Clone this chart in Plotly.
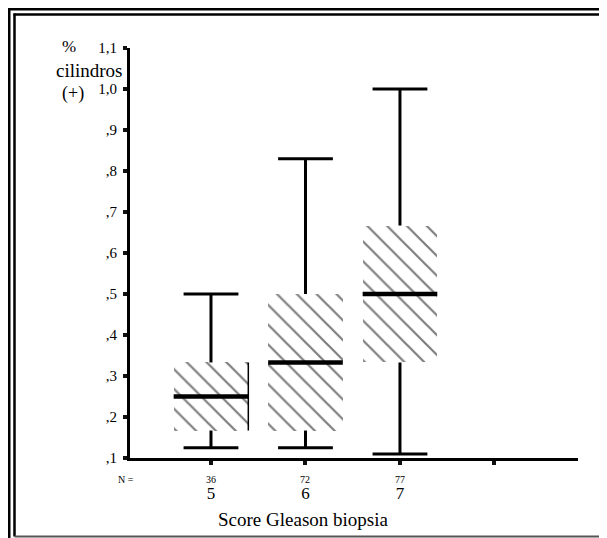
import plotly.graph_objects as go

# ---- data ----
categories = ["5", "6", "7", ""]
n_values = ["36", "72", "77"]
lower_whisker = [0.125, 0.125, 0.11]
q1 = [0.167, 0.167, 0.333]
median = [0.25, 0.333, 0.5]
q3 = [0.333, 0.5, 0.667]
upper_whisker = [0.5, 0.83, 1.0]
y_tickvals = [0.1, 0.2, 0.3, 0.4, 0.5, 0.6, 0.7, 0.8, 0.9, 1.0, 1.1]
y_ticktext = [",1", ",2", ",3", ",4", ",5", ",6", ",7", ",8", ",9", "1,0", "1,1"]

OFF = 8  # page body margin
W, H = 607 - OFF, 538 - OFF
L, T = 130 - OFF, 48 - OFF
R = W - (578 - OFF)
B = H - (458 - OFF)
PW, PH = W - L - R, H - T - B
FONT = "Liberation Serif"

def px_x(p):
    return (p - OFF - L) / PW

def px_y(p):
    return (H - B - (p - OFF)) / PH

box_w = 0.79
cap_w = 0.58
xs = list(range(len(q1)))

fig = go.Figure()

# hatched boxes
fig.add_trace(go.Bar(
    x=xs, y=[b - a for a, b in zip(q1, q3)], base=q1, width=box_w,
    marker=dict(color="white", line=dict(width=0),
                pattern=dict(shape="\\", fgcolor="black", bgcolor="white",
                             size=14, solidity=0.16)),
    hoverinfo="skip", showlegend=False))

# whiskers + caps
wx, wy = [], []
for i in xs:
    wx += [i, i, None, i - cap_w / 2, i + cap_w / 2, None,
           i, i, None, i - cap_w / 2, i + cap_w / 2, None]
    wy += [q3[i], upper_whisker[i], None, upper_whisker[i], upper_whisker[i], None,
           q1[i], lower_whisker[i], None, lower_whisker[i], lower_whisker[i], None]
fig.add_trace(go.Scatter(x=wx, y=wy, mode="lines",
                         line=dict(color="black", width=3),
                         hoverinfo="skip", showlegend=False))

# thin right edge on first box
fig.add_trace(go.Scatter(x=[xs[0] + box_w / 2] * 2, y=[q1[0], q3[0]], mode="lines",
                         line=dict(color="black", width=1.5),
                         hoverinfo="skip", showlegend=False))

# medians
mx, my = [], []
for i in xs:
    mx += [i - box_w / 2, i + box_w / 2, None]
    my += [median[i], median[i], None]
fig.add_trace(go.Scatter(x=mx, y=my, mode="lines",
                         line=dict(color="black", width=4.5),
                         hoverinfo="skip", showlegend=False))

fig.update_xaxes(
    range=[-0.857, 3.884], tickvals=list(range(len(categories))), ticktext=categories,
    showline=True, linecolor="black", linewidth=3, showgrid=False, zeroline=False,
    ticks="outside", ticklen=4, tickwidth=4, tickcolor="#111",
    tickfont=dict(family=FONT, size=17, color="black"), ticklabelstandoff=14)
fig.update_yaxes(
    range=[0.1, 1.1], tickvals=y_tickvals, ticktext=y_ticktext,
    showline=True, linecolor="black", linewidth=3, showgrid=False, zeroline=False,
    ticks="outside", ticklen=4, tickwidth=4, tickcolor="#111",
    tickfont=dict(family=FONT, size=15, color="black"), ticklabelstandoff=3)

def txt(x, y, s, size, xref="paper"):
    return dict(x=x, y=y, xref=xref, yref="paper", text=s, showarrow=False,
                xanchor="center", yanchor="middle",
                font=dict(family=FONT, size=size, color="black"))

ann = [txt(px_x(126), px_y(479), "N =", 10)]
for i, n in enumerate(n_values):
    ann.append(txt(i, px_y(479), n, 10, xref="x"))
ann += [
    txt(px_x(69), px_y(46), "%", 17),
    txt(px_x(89), px_y(70), "cilindros", 19),
    txt(px_x(73), px_y(93), "(+)", 18),
    txt(px_x(303), px_y(520), "Score Gleason biopsia", 19),
]

def seg(x0, y0, x1, y1, color, width):
    return dict(type="line", xref="paper", yref="paper",
                x0=px_x(x0), y0=px_y(y0), x1=px_x(x1), y1=px_y(y1),
                line=dict(color=color, width=width))

shapes = [
    seg(7.5, 9, 607, 9, "black", 3),
    seg(9, 7.5, 9, 538, "black", 3),
    seg(13.5, 14.5, 607, 14.5, "black", 2.5),
    seg(14.5, 13.5, 14.5, 536.5, "black", 2.5),
    seg(14.5, 536.5, 607, 536.5, "#555", 2),
]

fig.update_layout(
    width=W, height=H, margin=dict(l=L, r=R, t=T, b=B, pad=0),
    paper_bgcolor="white", plot_bgcolor="white",
    annotations=ann, shapes=shapes, showlegend=False, bargap=0,
)

fig.write_html(
    "out.html",
    post_script="document.documentElement.style.overflow='hidden';"
                "document.body.style.overflow='hidden';",
)
